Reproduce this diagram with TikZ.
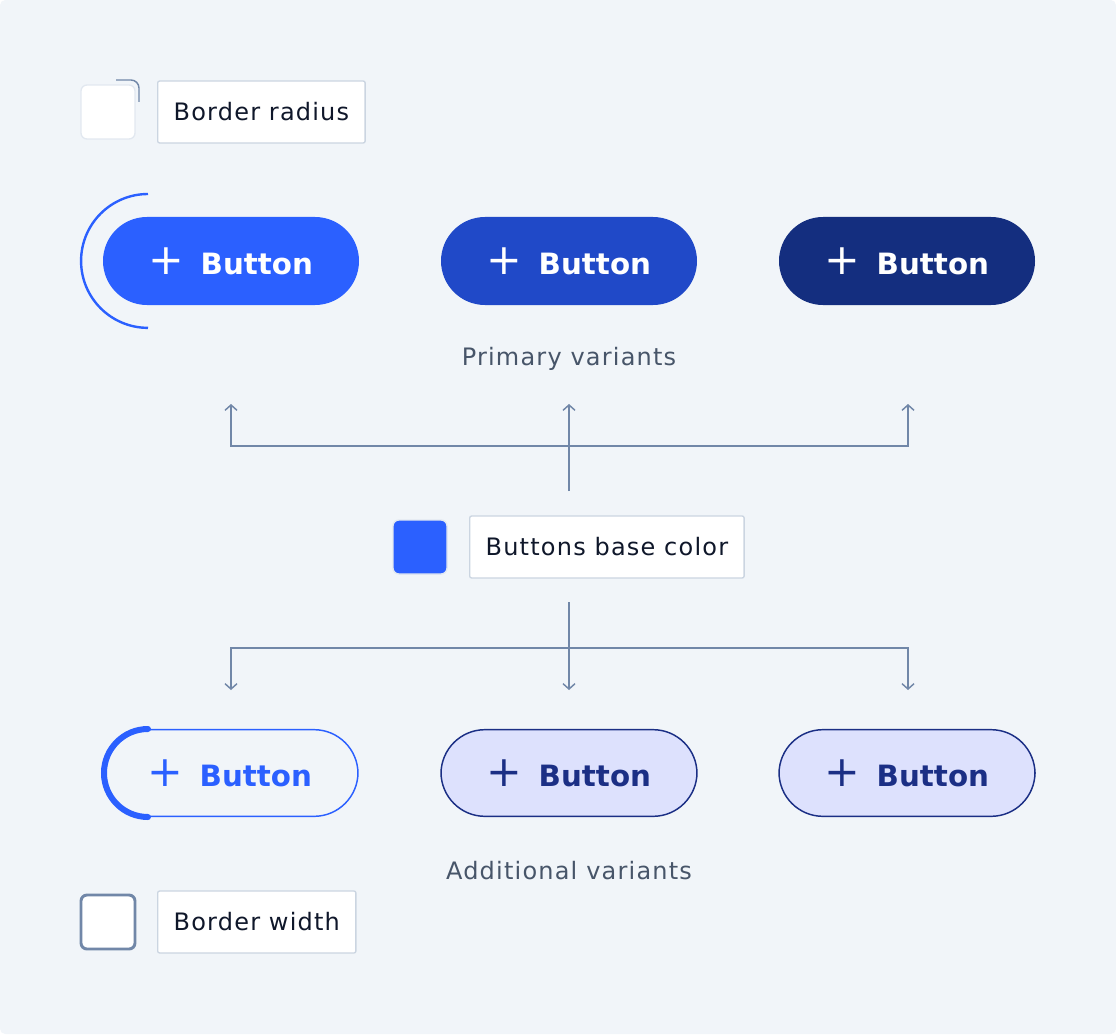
\documentclass[tikz,border=0pt]{standalone}
\usepackage{fontspec}
\setmainfont{DejaVu Sans}
\usepackage{tikz}
\usetikzlibrary{arrows.meta}
\usepackage{xcolor}
\definecolor{bgcol}{HTML}{F1F5F9}
\definecolor{slate}{HTML}{7187A8}
\definecolor{lblline}{HTML}{CBD5E1}
\definecolor{swline}{HTML}{E2E8F0}
\definecolor{ink}{HTML}{0F172A}
\definecolor{muted}{HTML}{475569}
\definecolor{blueA}{HTML}{2B60FF}
\definecolor{blueB}{HTML}{2049C8}
\definecolor{blueC}{HTML}{142E7F}
\definecolor{lav}{HTML}{DDE1FD}
\definecolor{navy}{HTML}{1B2F85}

\begin{document}
\begin{tikzpicture}[
  x=0.75pt, y=-0.75pt,
  btn/.style={rounded corners=33pt,minimum width=192pt,minimum height=66pt,inner sep=0pt,
    font=\fontsize{22}{28}\selectfont\bfseries,fill=#1,text=white},
  outbtn/.style={rounded corners=33pt,minimum width=192pt,minimum height=65pt,inner sep=0pt,
    font=\fontsize{22}{28}\selectfont\bfseries,draw=#1,line width=1.1pt,text=#1},
  swatch/.style={rounded corners=4.5pt,minimum size=40.5pt,inner sep=0pt,fill=#1,draw=swline,line width=1pt},
  lbl/.style={anchor=west,draw=lblline,fill=white,rounded corners=1.5pt,line width=1pt,
    minimum height=46.5pt,inner xsep=12pt,text=ink,font=\fontsize{18}{22}\selectfont\addfontfeatures{LetterSpace=5}},
  caption/.style={text=muted,font=\fontsize{18}{22}\selectfont\addfontfeatures{LetterSpace=5}},
  conn/.style={draw=slate,line width=1.1pt},
  tip/.tip={Straight Barb[length=4pt,width=9pt,line width=1.1pt]}
  ]
\def\btnText{{\fontsize{32}{32}\selectfont\mdseries +}\hspace{12pt}Button}
% background
\fill[white] (0,0) rectangle (1116,1034);
\fill[bgcol,rounded corners=4pt] (0,0) rectangle (1116,1034);
% border radius
\node[swatch=white] (brSwatch) at (108,112){};
\draw[slate,line width=1.1pt] (116,80) -- (131,80) arc[start angle=90,end angle=0,radius=6pt] -- (139,102);
\node[lbl] (brLabel) at (157,112){Border radius};
% primary variants
\node[btn=blueA] (prim1) at (231,261){\btnText};
\node[btn=blueB] (prim2) at (569,261){\btnText};
\node[btn=blueC] (prim3) at (907,261){\btnText};
\draw[blueA,line width=1.8pt] (148,194) arc[start angle=90,end angle=270,radius=50.2pt];
\node[caption] (primText) at (569,359){Primary variants};
% base color
\node[swatch=blueA] (baseSwatch) at (420,547){};
\node[lbl] (baseLabel) at (469,547){Buttons base color};
\coordinate (upStart) at (569,491);
\coordinate (upTipL) at (231,404);
\coordinate (upTipM) at (569,404);
\coordinate (upTipR) at (908,404);
\coordinate (upBar) at (569,446);
\draw[conn,tip-tip] (upTipL) |- (upBar) -| (upTipR);
\draw[conn,-tip] (upStart) -- (upTipM);
\coordinate (downStart) at (569,602);
\coordinate (downTipL) at (231,690);
\coordinate (downTipM) at (569,690);
\coordinate (downTipR) at (908,690);
\coordinate (downBar) at (569,648);
\draw[conn,tip-tip] (downTipL) |- (downBar) -| (downTipR);
\draw[conn,-tip] (downStart) -- (downTipM);
% additional variants
\node[outbtn=blueA] (add1) at (230,773){\btnText};
\draw[blueA,line width=4.5pt,line cap=round] (148,729) arc[start angle=90,end angle=270,radius=33pt];
\node[outbtn=navy,fill=lav] (add2) at (569,773){\btnText};
\node[outbtn=navy,fill=lav] (add3) at (907,773){\btnText};
\node[caption] (addText) at (569,871){Additional variants};
% border width
\node[swatch=white,draw=slate,line width=2.2pt] (bwSwatch) at (108,922){};
\node[lbl] (bwLabel) at (157,922){Border width};
\end{tikzpicture}
\end{document}
